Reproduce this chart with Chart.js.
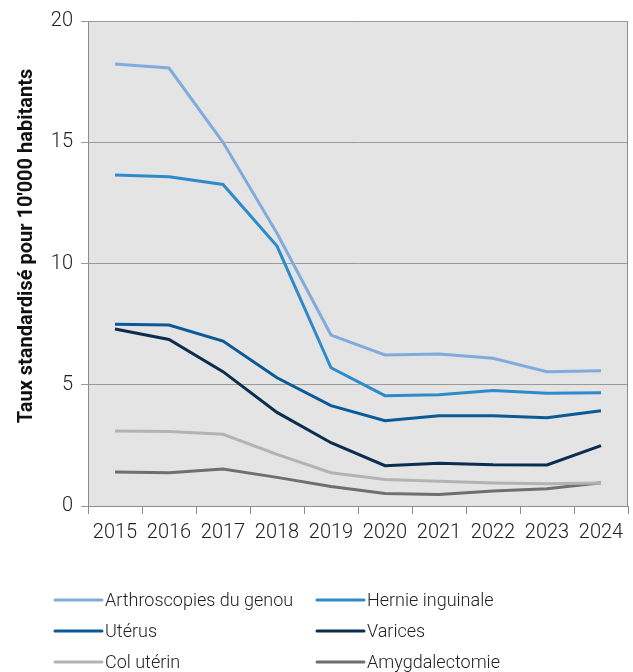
<!DOCTYPE html>
<html>
<head>
<meta charset="utf-8">
<script src="https://cdn.jsdelivr.net/npm/chart.js@4"></script>
<style>
  html, body { margin: 0; padding: 0; background: #fff; }
  #wrap { width: 633px; height: 672px; position: relative; }
</style>
</head>
<body>
<div id="wrap"><canvas id="rateChart"></canvas></div>
<script>
const years = ["2015", "2016", "2017", "2018", "2019", "2020", "2021", "2022", "2023", "2024"];

const arthroscopies = [18.23, 18.06, 15.0, 11.25, 7.05, 6.23, 6.27, 6.09, 5.54, 5.58];
const hernie = [13.65, 13.58, 13.26, 10.72, 5.70, 4.55, 4.59, 4.76, 4.65, 4.67];
const uterus = [7.49, 7.46, 6.80, 5.29, 4.14, 3.52, 3.72, 3.72, 3.64, 3.93];
const varices = [7.30, 6.87, 5.54, 3.86, 2.61, 1.66, 1.76, 1.70, 1.69, 2.49];
const colUterin = [3.09, 3.07, 2.96, 2.13, 1.37, 1.09, 1.02, 0.95, 0.92, 0.95];
const amygdalectomie = [1.40, 1.37, 1.53, 1.18, 0.80, 0.52, 0.47, 0.62, 0.71, 0.96];

const seriesNames = ["Arthroscopies du genou", "Hernie inguinale", "Utérus", "Varices", "Col utérin", "Amygdalectomie"];
const seriesColors = ["#80acdc", "#2e8bcb", "#0b5a98", "#0b2d50", "#b3b3b3", "#6f6f6f"];
const seriesData = [arthroscopies, hernie, uterus, varices, colUterin, amygdalectomie];

const yTicks = [0, 5, 10, 15, 20];
const yTitle = "Taux standardisé pour 10'000 habitants";

const FONT = "Roboto";

// grey plot background, right-hand frame line and the y-axis title
const plotFrame = {
  id: "plotFrame",
  beforeDraw(chart) {
    const { ctx, chartArea: a } = chart;
    ctx.save();
    ctx.fillStyle = "#e4e4e4";
    ctx.fillRect(a.left, a.top, a.right - a.left, a.bottom - a.top);
    ctx.restore();
  },
  afterDatasetsDraw(chart) {
    const { ctx, chartArea: a } = chart;
    ctx.save();
    ctx.strokeStyle = "#8c8c8c";
    ctx.lineWidth = 1;
    ctx.beginPath();
    ctx.moveTo(a.right - 0.5, a.top);
    ctx.lineTo(a.right - 0.5, a.bottom);
    ctx.stroke();

    // rotated axis title, sitting a little above the plot's middle
    ctx.translate(32, 246);
    ctx.rotate(-Math.PI / 2);
    ctx.font = "bold 20px " + FONT;
    ctx.fillStyle = "#111";
    ctx.textAlign = "center";
    ctx.textBaseline = "alphabetic";
    ctx.fillText(yTitle, 0, 0);
    ctx.restore();
  }
};

// two-column legend under the axis
const gridLegend = {
  id: "gridLegend",
  afterDraw(chart) {
    const { ctx } = chart;
    const colX = [55, 317];
    const rowY = [600, 631, 662];
    ctx.save();
    ctx.font = "300 18px " + FONT;
    ctx.textBaseline = "middle";
    chart.data.datasets.forEach((ds, i) => {
      const x = colX[i % 2];
      const y = rowY[Math.floor(i / 2)];
      ctx.strokeStyle = ds.borderColor;
      ctx.lineWidth = 3;
      ctx.lineCap = "round";
      ctx.beginPath();
      ctx.moveTo(x, y);
      ctx.lineTo(x + 47, y);
      ctx.stroke();
      ctx.fillStyle = "#222";
      ctx.fillText(ds.label, x + 50, y + 1);
    });
    ctx.restore();
  }
};

new Chart(document.getElementById("rateChart"), {
  type: "line",
  data: {
    labels: years,
    datasets: seriesNames.map((name, i) => ({
      label: name,
      data: seriesData[i],
      borderColor: seriesColors[i],
      backgroundColor: seriesColors[i],
      borderWidth: 3,
      pointRadius: 0,
      tension: 0,
      fill: false
    }))
  },
  options: {
    responsive: true,
    maintainAspectRatio: false,
    animation: false,
    layout: { padding: { top: 21, right: 5, bottom: 122, left: 0 } },
    plugins: {
      legend: { display: false },
      tooltip: { enabled: false }
    },
    scales: {
      x: {
        offset: true,
        afterFit(axis) { axis.height = 44; },
        grid: {
          offset: true,
          drawOnChartArea: false,
          drawTicks: true,
          tickLength: 8,
          color: "#8c8c8c"
        },
        border: { color: "#8c8c8c" },
        ticks: {
          color: "#222",
          font: { family: FONT, size: 20, weight: "300" },
          padding: 7,
          maxRotation: 0
        }
      },
      y: {
        min: 0,
        max: 20,
        afterFit(axis) { axis.width = 88; },
        afterBuildTicks(axis) {
          axis.ticks = yTicks.map(v => ({ value: v }));
        },
        grid: {
          color: "#9a9a9a",
          tickLength: 7
        },
        border: { color: "#8c8c8c" },
        ticks: {
          color: "#222",
          font: { family: FONT, size: 20, weight: "300" },
          padding: 8
        }
      }
    }
  },
  plugins: [plotFrame, gridLegend]
});
</script>
</body>
</html>
